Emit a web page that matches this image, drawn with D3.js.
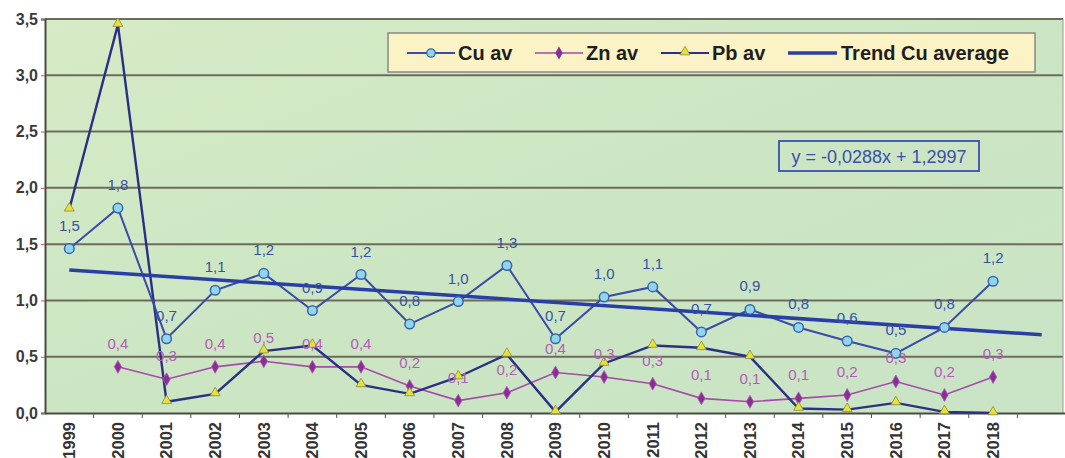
<!DOCTYPE html>
<html>
<head>
<meta charset="utf-8">
<script src="https://cdn.jsdelivr.net/npm/d3@7"></script>
<style>
  html, body { margin: 0; padding: 0; background: #ffffff; }
  svg { display: block; font-family: "Liberation Sans", Arial, sans-serif; }
</style>
</head>
<body>
<svg id="chart" width="1065" height="458"></svg>
<script>
// Yearly averages of Cu, Zn and Pb
const categories = ["1999","2000","2001","2002","2003","2004","2005","2006","2007","2008",
                    "2009","2010","2011","2012","2013","2014","2015","2016","2017","2018"];
const cuAv = [1.46,1.82,0.66,1.09,1.24,0.91,1.23,0.79,0.99,1.31,0.66,1.03,1.12,0.72,0.92,0.76,0.64,0.53,0.76,1.17];
const znAv = [null,0.41,0.30,0.41,0.46,0.41,0.41,0.24,0.11,0.18,0.36,0.32,0.26,0.13,0.10,0.13,0.16,0.28,0.16,0.32];
const pbAv = [1.81,3.45,0.10,0.17,0.55,0.60,0.25,0.17,0.32,0.52,0.01,0.44,0.60,0.58,0.50,0.04,0.03,0.09,0.01,0.00];
const yTicks = [0,0.5,1.0,1.5,2.0,2.5,3.0,3.5];
// Linear trend of Cu average (x = 1 for the first year), drawn one period forward
const trendSlope = -0.0288;
const trendIntercept = 1.2997;
const trendForward = 1;
const equationText = "y = -0,0288x + 1,2997";

const svg = d3.select("#chart");
const plot = { left: 45, top: 19, right: 1063, bottom: 413 };

const nSlots = categories.length + trendForward;
const x = d3.scaleBand().domain(d3.range(nSlots)).range([plot.left, 1066]).padding(0);
const cx = i => x(i) + x.bandwidth() / 2;
const y = d3.scaleLinear().domain([0, 3.5]).range([plot.bottom, plot.top]);
const comma = v => d3.format(".1f")(v).replace(".", ",");

// plot background
const defs = svg.append("defs");
const grad = defs.append("linearGradient").attr("id", "bg").attr("x1", 0).attr("y1", 0).attr("x2", 1).attr("y2", 1);
grad.append("stop").attr("offset", "0%").attr("stop-color", "#d6ebc6");
grad.append("stop").attr("offset", "50%").attr("stop-color", "#cce6c3");
grad.append("stop").attr("offset", "100%").attr("stop-color", "#c9e4c6");
svg.append("rect")
  .attr("x", plot.left).attr("y", plot.top - 1)
  .attr("width", plot.right - plot.left).attr("height", plot.bottom - plot.top + 1)
  .attr("fill", "url(#bg)");

// gridlines
svg.append("g").selectAll("line").data(yTicks.filter(d => d > 0)).join("line")
  .attr("x1", plot.left).attr("x2", plot.right)
  .attr("y1", d => y(d)).attr("y2", d => y(d))
  .attr("stroke", "#6c6c5e").attr("stroke-width", 2);
svg.append("line")
  .attr("x1", plot.right).attr("x2", plot.right)
  .attr("y1", plot.top).attr("y2", plot.bottom)
  .attr("stroke", "#9a9a8c").attr("stroke-width", 1);

// y axis
const yAxis = d3.axisLeft(y).tickValues(yTicks).tickFormat(comma).tickSize(4).tickPadding(3);
const gy = svg.append("g").attr("transform", `translate(${plot.left},0)`).call(yAxis);
gy.select(".domain").attr("stroke", "#4a4a44").attr("stroke-width", 2);
gy.selectAll(".tick line").attr("stroke", "#b06060");
gy.selectAll(".tick text").attr("fill", "#3a3a3a").attr("font-size", 16).attr("font-weight", "bold")
  .attr("font-family", "'Liberation Sans', Arial, sans-serif");

// x axis: ticks between categories, rotated year labels
const xAxis = d3.axisBottom(x).tickFormat(i => i < categories.length ? categories[i] : "").tickSize(0);
const gx = svg.append("g").attr("transform", `translate(0,${plot.bottom})`).call(xAxis);
gx.select(".domain").attr("stroke", "#4a4a44").attr("stroke-width", 2);
gx.selectAll(".tick text")
  .attr("transform", "rotate(-90)")
  .attr("x", -9).attr("y", 0).attr("dy", "0.35em")
  .attr("text-anchor", "end")
  .attr("fill", "#333333").attr("font-size", 16.5).attr("font-weight", "bold")
  .attr("font-family", "'Liberation Sans', Arial, sans-serif");
svg.append("g").selectAll("line").data(d3.range(1, nSlots)).join("line")
  .attr("x1", i => x(i)).attr("x2", i => x(i))
  .attr("y1", plot.bottom).attr("y2", plot.bottom + 5)
  .attr("stroke", "#555550").attr("stroke-width", 1);

// legend
const lg = svg.append("g");
lg.append("rect").attr("x", 388).attr("y", 33).attr("width", 647).attr("height", 39)
  .attr("fill", "#fbf3c6").attr("stroke", "#8a8a80").attr("stroke-width", 1.5);

const line = d3.line().defined(d => d.v !== null).x(d => cx(d.i)).y(d => y(d.v));
const pts = arr => arr.map((v, i) => ({ i, v }));

// trend line
const trendPts = [1, categories.length + trendForward].map(k => ({ i: k - 1, v: trendSlope * k + trendIntercept }));

// series
svg.append("path").datum(pts(znAv)).attr("d", line)
  .attr("fill", "none").attr("stroke", "#a54aa8").attr("stroke-width", 1.6);
svg.append("path").datum(pts(pbAv)).attr("d", line)
  .attr("fill", "none").attr("stroke", "#2c3085").attr("stroke-width", 2.4);
svg.append("path").datum(pts(cuAv)).attr("d", line)
  .attr("fill", "none").attr("stroke", "#3a4ca6").attr("stroke-width", 2);
svg.append("path").datum(trendPts).attr("d", line)
  .attr("fill", "none").attr("stroke", "#2a3ea8").attr("stroke-width", 3.5);

// markers
const diamond = d3.symbol().type(d3.symbolDiamond).size(48);
const triangle = d3.symbol().type(d3.symbolTriangle).size(42);
svg.append("g").selectAll("path").data(pts(znAv).filter(d => d.v !== null)).join("path")
  .attr("d", diamond).attr("transform", d => `translate(${cx(d.i)},${y(d.v)})`)
  .attr("fill", "#8a2e96").attr("stroke", "#b060b8").attr("stroke-width", 0.8);
svg.append("g").selectAll("path").data(pts(pbAv)).join("path")
  .attr("d", triangle).attr("transform", d => `translate(${cx(d.i)},${y(d.v) - 1})`)
  .attr("fill", "#e6e23a").attr("stroke", "#8a8a40").attr("stroke-width", 0.8);
svg.append("g").selectAll("circle").data(pts(cuAv)).join("circle")
  .attr("cx", d => cx(d.i)).attr("cy", d => y(d.v)).attr("r", 4.8)
  .attr("fill", "#8fd6ec").attr("stroke", "#3d63b0").attr("stroke-width", 1.5);

// value labels
svg.append("g").selectAll("text").data(pts(znAv).filter(d => d.v !== null)).join("text")
  .attr("x", d => cx(d.i)).attr("y", d => y(d.v) - 18)
  .attr("text-anchor", "middle").attr("font-size", 15).attr("fill", "#b45cb8")
  .text(d => comma(d.v));
svg.append("g").selectAll("text").data(pts(cuAv)).join("text")
  .attr("x", d => cx(d.i)).attr("y", d => y(d.v) - 18)
  .attr("text-anchor", "middle").attr("font-size", 15).attr("fill", "#3552a6")
  .text(d => comma(d.v));

// legend entries
const legendItems = [
  { label: "Cu av", x0: 407, x1: 455, tx: 458, stroke: "#3a4ca6", w: 2, mark: "circle" },
  { label: "Zn av", x0: 535, x1: 583, tx: 586, stroke: "#a54aa8", w: 1.6, mark: "diamond" },
  { label: "Pb av", x0: 661, x1: 709, tx: 712, stroke: "#2c3085", w: 2.2, mark: "triangle" },
  { label: "Trend Cu average", x0: 788, x1: 837, tx: 841, stroke: "#2a3ea8", w: 3.5, mark: null }
];
const ly = 53;
legendItems.forEach(it => {
  lg.append("line").attr("x1", it.x0).attr("x2", it.x1).attr("y1", ly).attr("y2", ly)
    .attr("stroke", it.stroke).attr("stroke-width", it.w);
  const mx = (it.x0 + it.x1) / 2;
  if (it.mark === "circle") {
    lg.append("circle").attr("cx", mx).attr("cy", ly).attr("r", 4.2)
      .attr("fill", "#8fd6ec").attr("stroke", "#3d63b0").attr("stroke-width", 1.3);
  } else if (it.mark === "diamond") {
    lg.append("path").attr("d", diamond).attr("transform", `translate(${mx},${ly})`)
      .attr("fill", "#8a2e96");
  } else if (it.mark === "triangle") {
    lg.append("path").attr("d", triangle).attr("transform", `translate(${mx},${ly - 1})`)
      .attr("fill", "#e6e23a").attr("stroke", "#8a8a40").attr("stroke-width", 0.8);
  }
  lg.append("text").attr("x", it.tx).attr("y", ly + 7)
    .attr("font-size", 20).attr("font-weight", "bold").attr("fill", "#1e1e1e")
    .text(it.label);
});

// trend equation box
const eq = svg.append("g");
eq.append("rect").attr("x", 779).attr("y", 141).attr("width", 200).attr("height", 30)
  .attr("fill", "none").attr("stroke", "#3a4fb0").attr("stroke-width", 1.8);
eq.append("text").attr("x", 879).attr("y", 163).attr("text-anchor", "middle")
  .attr("font-size", 18).attr("fill", "#3a4fb0").text(equationText);
</script>
</body>
</html>
